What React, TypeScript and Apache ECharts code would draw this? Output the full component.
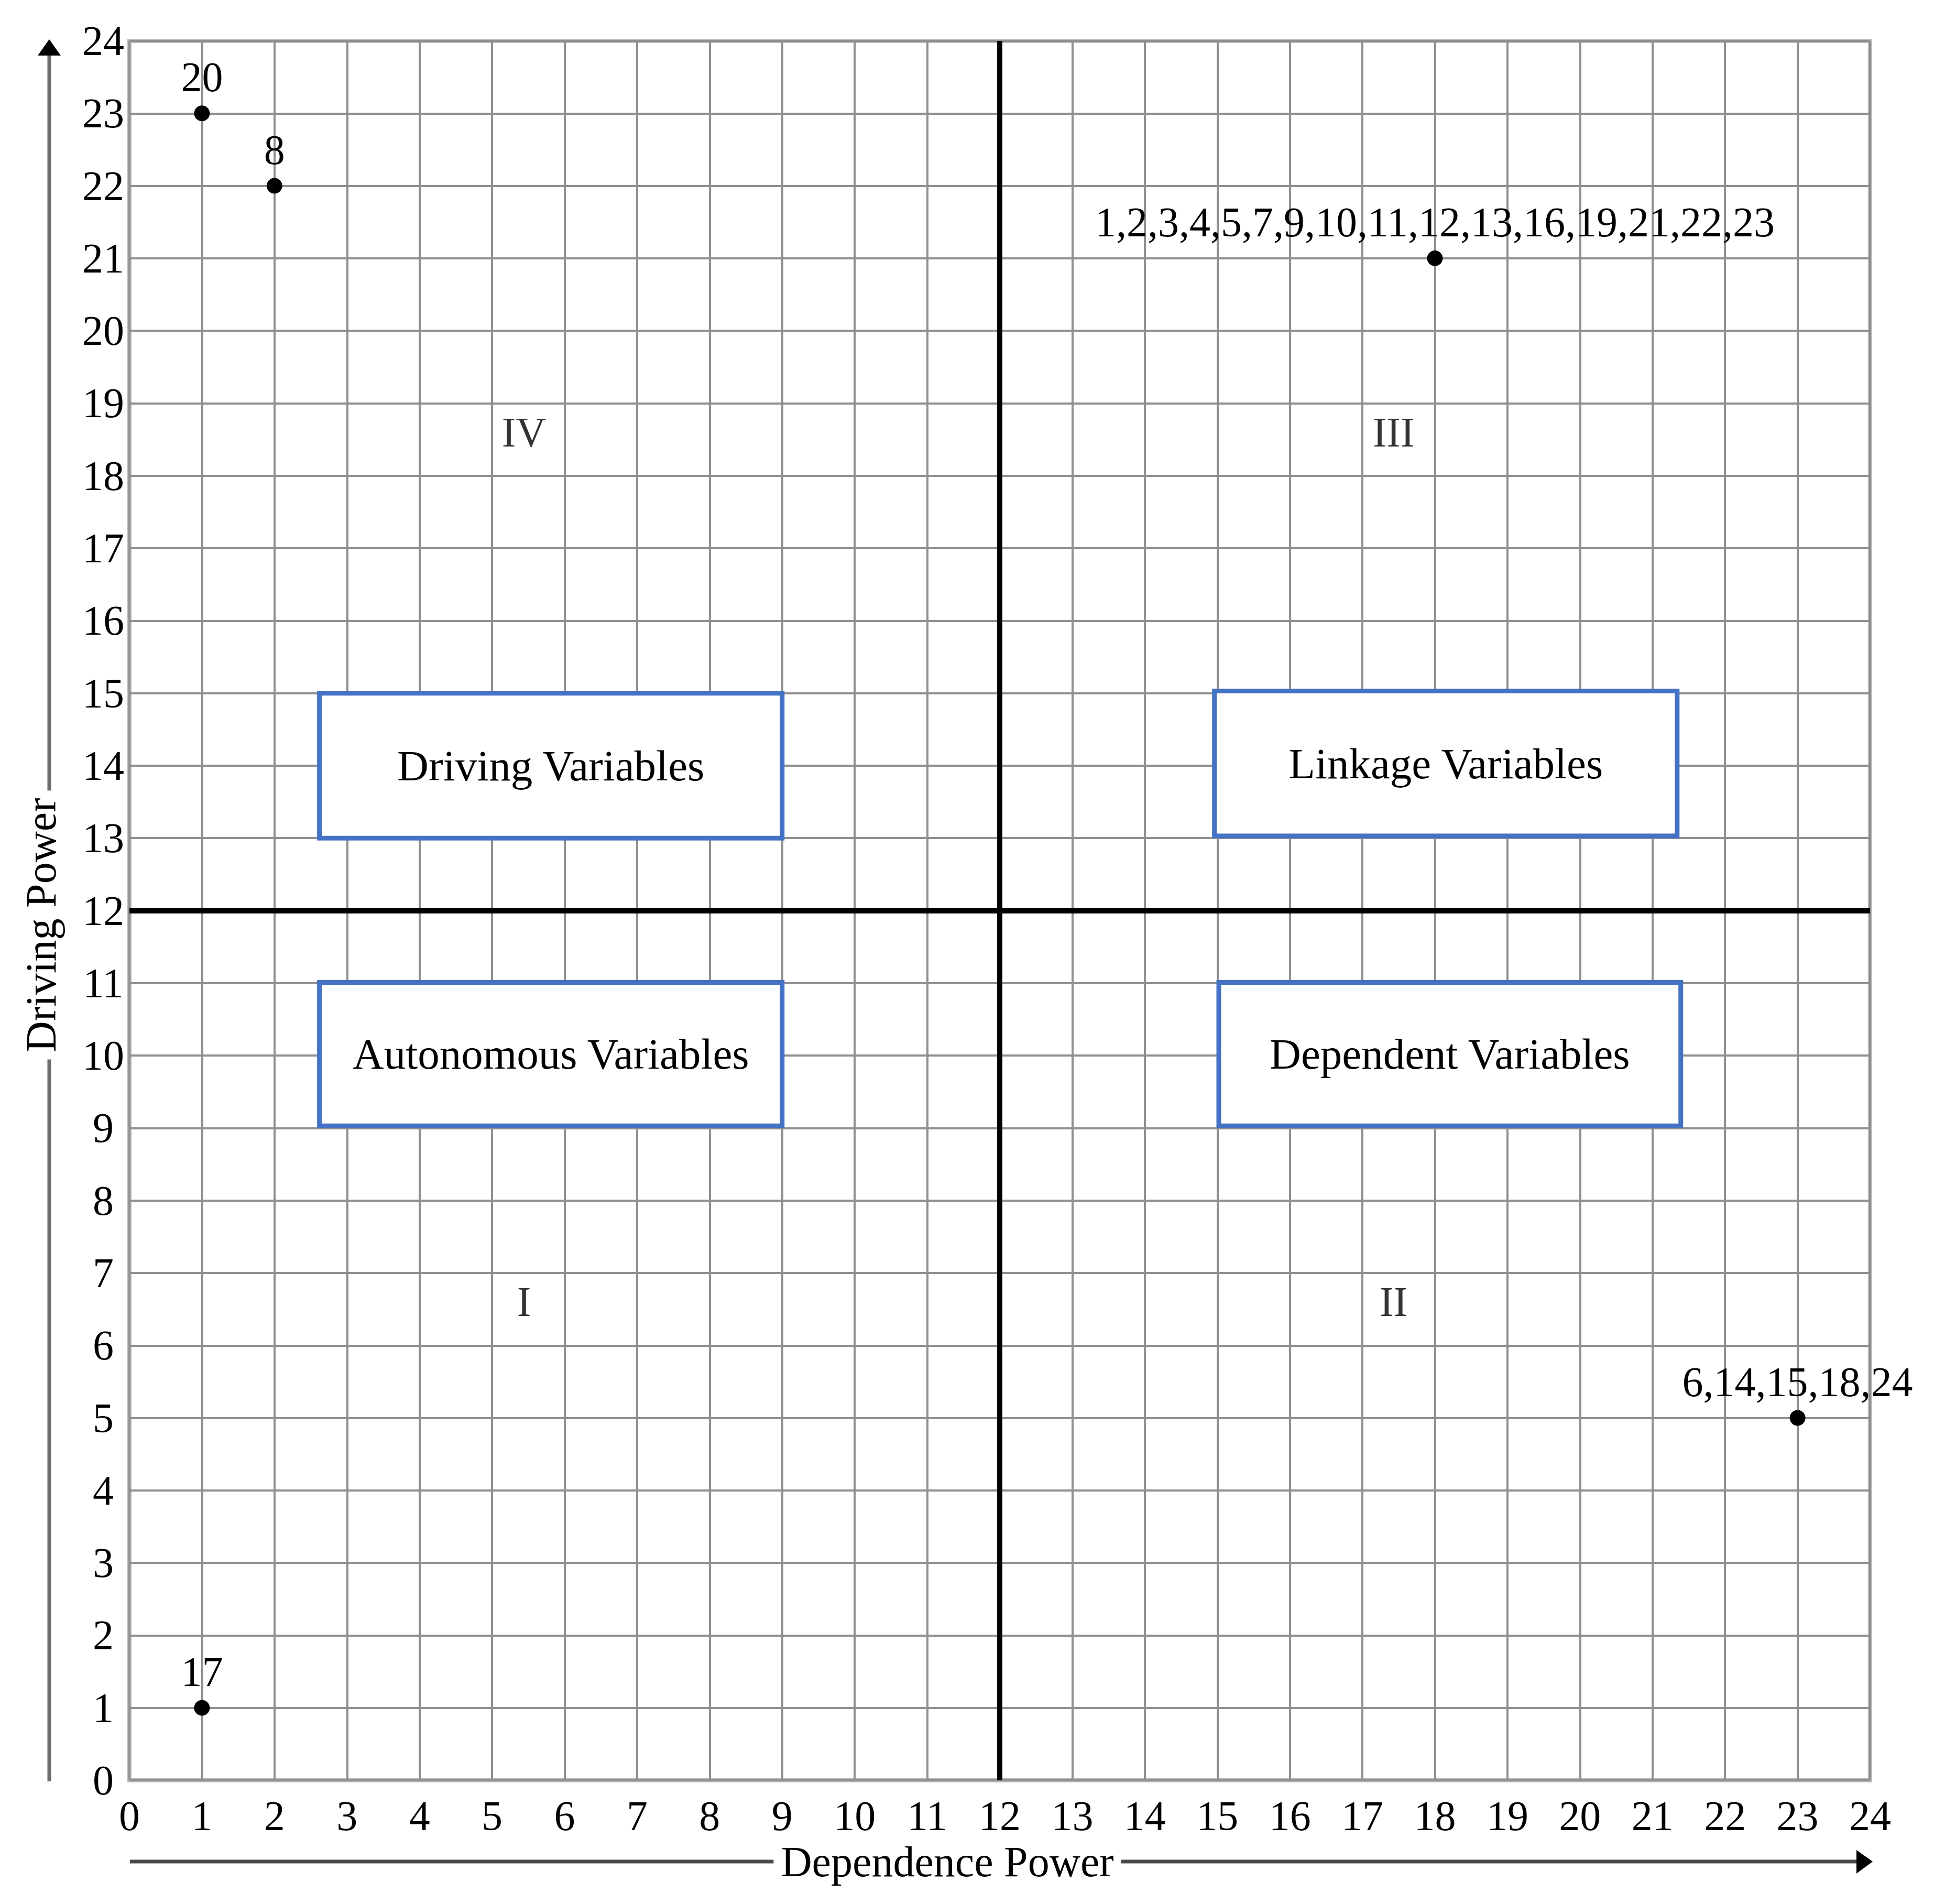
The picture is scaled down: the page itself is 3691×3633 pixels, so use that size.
import React, { useEffect, useRef } from "react";
import * as echarts from "echarts";

// ---- Data ----
const pointDependence = [1, 2, 1, 18, 23];
const pointDriving = [23, 22, 1, 21, 5];
const pointLabels = [
  "20",
  "8",
  "17",
  "1,2,3,4,5,7,9,10,11,12,13,16,19,21,22,23",
  "6,14,15,18,24",
];

const quadrantNames = ["IV", "III", "I", "II"];
const quadrantX = [5.44, 17.43, 5.44, 17.43];
const quadrantY = [18.6, 18.6, 6.6, 6.6];

const boxLabels = ["Driving Variables", "Linkage Variables", "Autonomous Variables", "Dependent Variables"];
const boxXStart = [2.62, 14.96, 2.62, 15.02];
const boxXEnd = [9.0, 21.34, 9.0, 21.39];
const boxYStart = [13.0, 13.03, 9.03, 9.03];
const boxYEnd = [15.0, 15.03, 11.01, 11.01];

const axisMin = 0;
const axisMax = 24;
const threshold = 12;

const xTitle = "Dependence Power";
const yTitle = "Driving Power";

const FONT = "'Liberation Serif', 'Times New Roman', serif";

export default function App() {
  const ref = useRef<HTMLDivElement>(null);

  useEffect(() => {
    document.body.style.margin = "0";
    if (!ref.current) return;
    const chart = echarts.init(ref.current, undefined, { renderer: "svg" });

    const gridLeft = 247;
    const gridTop = 78;
    const gridW = 3322;
    const gridH = 3319;

    const option: any = {
      animation: false,
      backgroundColor: "#ffffff",
      grid: {
        left: gridLeft,
        top: gridTop,
        width: gridW,
        height: gridH,
        show: true,
        borderColor: "#bbbbbb",
        borderWidth: 8,
        backgroundColor: "#ffffff",
      },
      xAxis: {
        type: "value",
        min: axisMin,
        max: axisMax,
        interval: 1,
        axisLine: { show: false },
        axisTick: { show: false },
        splitLine: { show: true, lineStyle: { color: "#909090", width: 4 } },
        axisLabel: {
          fontFamily: FONT,
          fontSize: 80,
          color: "#000",
          margin: 28,
        },
      },
      yAxis: {
        type: "value",
        min: axisMin,
        max: axisMax,
        interval: 1,
        axisLine: { show: false },
        axisTick: { show: false },
        splitLine: { show: true, lineStyle: { color: "#909090", width: 4 } },
        axisLabel: {
          fontFamily: FONT,
          fontSize: 80,
          color: "#000",
          margin: 50,
          align: "center",
          padding: [0, 0, 34, 0],
        },
      },
      graphic: [
        // Y arrow
        { type: "line", shape: { x1: 94, y1: 3399, x2: 94, y2: 100 }, style: { stroke: "#6e6e6e", lineWidth: 7 }, z: 50 },
        { type: "polygon", shape: { points: [[94, 75], [72, 106], [116, 106]] }, style: { fill: "#000" }, z: 51 },
        // X arrow
        { type: "line", shape: { x1: 248, y1: 3552, x2: 3550, y2: 3552 }, style: { stroke: "#4a4a4a", lineWidth: 7 }, z: 50 },
        { type: "polygon", shape: { points: [[3574, 3552], [3543, 3530], [3543, 3575]] }, style: { fill: "#000" }, z: 51 },
        {
          type: "text",
          x: 1808,
          y: 3552,
          z: 60,
          style: {
            text: xTitle,
            font: `82px ${FONT}`,
            fill: "#000",
            align: "center",
            verticalAlign: "middle",
            backgroundColor: "#ffffff",
            padding: [0, 14, 0, 14],
          },
        },
        {
          type: "text",
          x: 78,
          y: 1765,
          rotation: Math.PI / 2,
          z: 60,
          style: {
            text: yTitle,
            font: `82px ${FONT}`,
            fill: "#000",
            align: "center",
            verticalAlign: "middle",
            backgroundColor: "#ffffff",
            padding: [0, 14, 0, 14],
          },
        },
      ],
      series: [
        {
          type: "custom",
          z: 5,
          data: boxLabels.map((name, i) => [boxXStart[i], boxXEnd[i], boxYStart[i], boxYEnd[i], name]),
          renderItem: (params: any, api: any) => {
            const x0 = api.value(0);
            const x1 = api.value(1);
            const y0 = api.value(2);
            const y1 = api.value(3);
            const name = boxLabels[params.dataIndex];
            const p1 = api.coord([x0, y1]);
            const p2 = api.coord([x1, y0]);
            return {
              type: "group",
              children: [
                {
                  type: "rect",
                  shape: { x: p1[0], y: p1[1], width: p2[0] - p1[0], height: p2[1] - p1[1] },
                  style: { fill: "#ffffff", stroke: "#4472C4", lineWidth: 9 },
                },
                {
                  type: "text",
                  style: {
                    text: name,
                    x: (p1[0] + p2[0]) / 2,
                    y: (p1[1] + p2[1]) / 2,
                    align: "center",
                    verticalAlign: "middle",
                    font: `83px ${FONT}`,
                    fill: "#000",
                  },
                },
              ],
            };
          },
        },
        {
          type: "scatter",
          z: 4,
          symbolSize: 0,
          data: quadrantNames.map((n, i) => ({ value: [quadrantX[i], quadrantY[i]], name: n })),
          label: {
            show: true,
            position: "inside",
            formatter: (p: any) => p.name,
            fontFamily: FONT,
            fontSize: 80,
            color: "#000",
          },
          markLine: {
            silent: true,
            symbol: "none",
            label: { show: false },
            lineStyle: { color: "#000", width: 10, type: "solid", opacity: 1 },
            data: [{ xAxis: threshold }, { yAxis: threshold }],
          },
        },
        {
          type: "scatter",
          z: 10,
          symbol: "circle",
          symbolSize: 30,
          itemStyle: { color: "#000", opacity: 1 },
          data: pointDependence.map((x, i) => ({ value: [x, pointDriving[i]], name: pointLabels[i] })),
          label: {
            show: true,
            position: "top",
            distance: 14,
            formatter: (p: any) => p.name,
            fontFamily: FONT,
            fontSize: 80,
            color: "#000",
          },
        },
      ],
    };

    chart.setOption(option);
    return () => chart.dispose();
  }, []);

  return <div ref={ref} style={{ width: 3691, height: 3633 }} />;
}
